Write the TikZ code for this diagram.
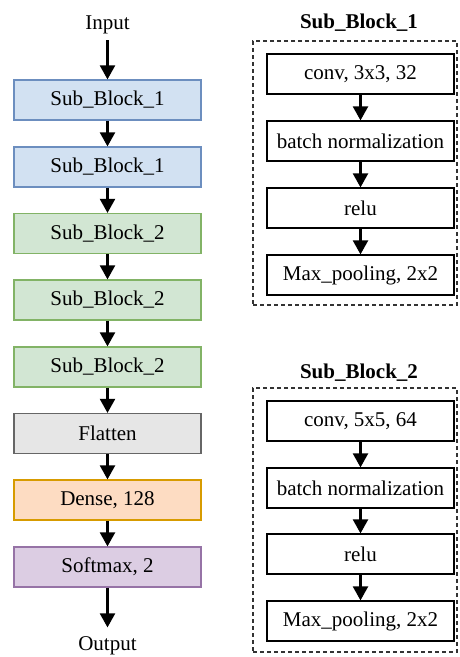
\documentclass[tikz,border=0pt]{standalone}
\usepackage{fontspec}
\setmainfont{Liberation Serif}
\usetikzlibrary{arrows.meta}
\definecolor{bfill}{HTML}{D2E1F2}
\definecolor{bdraw}{HTML}{6C8EBF}
\definecolor{gfill}{HTML}{D2E6D3}
\definecolor{gdraw}{HTML}{82B366}
\definecolor{kfill}{HTML}{E6E6E6}
\definecolor{kdraw}{HTML}{666666}
\definecolor{ofill}{HTML}{FDDCC2}
\definecolor{odraw}{HTML}{D79B00}
\definecolor{pfill}{HTML}{DCCDE3}
\definecolor{pdraw}{HTML}{9673A6}
\tikzset{
  txt/.style={font=\fontsize{21}{25}\selectfont},
  blk/.style={txt, draw, line width=1.2pt, minimum width=187pt, minimum height=40pt, inner sep=0pt},
  b1/.style={blk, fill=bfill, draw=bdraw},
  b2/.style={blk, fill=gfill, draw=gdraw},
  bk/.style={blk, fill=kfill, draw=kdraw},
  bo/.style={blk, fill=ofill, draw=odraw},
  bp/.style={blk, fill=pfill, draw=pdraw},
  wb/.style={blk, fill=white, draw=black},
  arr/.style={line width=2.2pt, -{Triangle[width=15pt,length=14pt]}},
  grp/.style={draw=black!80, dashed, dash pattern=on 4pt off 3pt, line width=1.3pt, minimum width=204pt, minimum height=264pt, inner sep=0pt},
  ttl/.style={font=\fontsize{21}{25}\selectfont\bfseries, inner sep=0pt, anchor=base},
  lbl/.style={txt, inner sep=0pt, anchor=base}
}
\begin{document}
\begin{tikzpicture}[x=1pt,y=-1pt]
\useasboundingbox (0,0) rectangle (459,657);
% left column
\node[lbl] (in) at (107.5,29) {Input};
\node[b1] (l1) at (107.5,100) {Sub\_Block\_1};
\node[b1] (l2) at (107.5,167) {Sub\_Block\_1};
\node[b2] (l3) at (107.5,233.5) {Sub\_Block\_2};
\node[b2] (l4) at (107.5,300) {Sub\_Block\_2};
\node[b2] (l5) at (107.5,367) {Sub\_Block\_2};
\node[bk] (l6) at (107.5,433.5) {Flatten};
\node[bo] (l7) at (107.5,500) {Dense, 128};
\node[bp] (l8) at (107.5,567) {Softmax, 2};
\node[lbl] (out) at (107.5,650) {Output};
\draw[arr, shorten <=6.5pt] (in.south) -- (l1.north);
\draw[arr] (l1) -- (l2);
\draw[arr] (l2) -- (l3);
\draw[arr] (l3) -- (l4);
\draw[arr] (l4) -- (l5);
\draw[arr] (l5) -- (l6);
\draw[arr] (l6) -- (l7);
\draw[arr] (l7) -- (l8);
\draw[arr, shorten >=8.5pt] (l8.south) -- (out.north);
% Sub_Block_1
\node[ttl] (t1) at (359,28) {Sub\_Block\_1};
\node[grp] (g1) at (355,173) {};
\node[wb] (a1) at (360.5,74) {conv, 3x3, 32};
\node[wb] (a2) at (360.5,141) {batch normalization};
\node[wb] (a3) at (360.5,208) {relu};
\node[wb] (a4) at (360.5,275) {Max\_pooling, 2x2};
\draw[arr] (a1) -- (a2);
\draw[arr] (a2) -- (a3);
\draw[arr] (a3) -- (a4);
% Sub_Block_2
\node[ttl] (t2) at (359,378) {Sub\_Block\_2};
\node[grp] (g2) at (355,520) {};
\node[wb] (c1) at (360.5,421) {conv, 5x5, 64};
\node[wb] (c2) at (360.5,488) {batch normalization};
\node[wb] (c3) at (360.5,554) {relu};
\node[wb] (c4) at (360.5,621) {Max\_pooling, 2x2};
\draw[arr] (c1) -- (c2);
\draw[arr] (c2) -- (c3);
\draw[arr] (c3) -- (c4);
\end{tikzpicture}
\end{document}
